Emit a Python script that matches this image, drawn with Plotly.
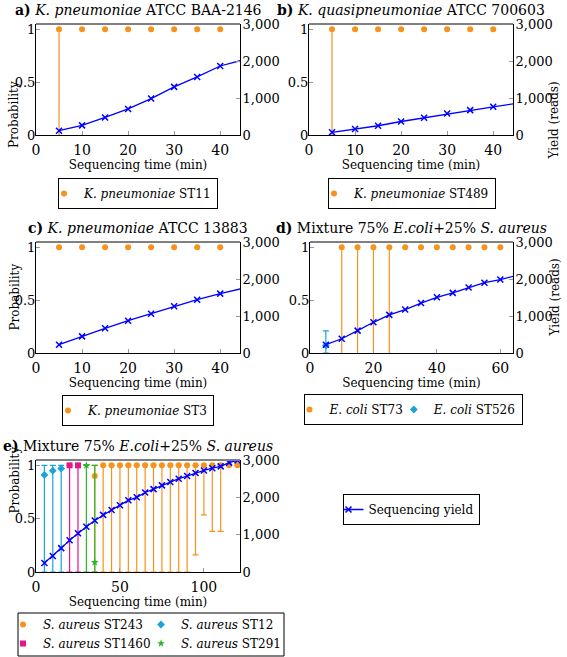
import plotly.graph_objects as go

W, H = 567, 657
FONT = "DejaVu Serif"

ORANGE = "#F7921E"
CYAN = "#1AA3D9"
MAGENTA = "#E3178C"
GREEN = "#2BB52B"
BLUE = "#0000FF"

# ---------------- data ----------------
# yield (reads) per sequencing time
time_abc = [5, 10, 15, 20, 25, 30, 35, 40, 45]
yield_a = [115, 260, 475, 705, 985, 1300, 1570, 1865, 2030]
yield_b = [72, 160, 250, 365, 466, 580, 672, 762, 855]
yield_c = [225, 450, 667, 874, 1063, 1261, 1441, 1604, 1750]
time_d = [5, 10, 15, 20, 25, 30, 35, 40, 45, 50, 55, 60, 65]
yield_d = [225, 385, 605, 830, 1030, 1175, 1350, 1505, 1625, 1770, 1900, 1985, 2090]
time_e = [5, 10, 15, 20, 25, 30, 35, 40, 45, 50, 55, 60, 65, 70, 75, 80,
          85, 90, 95, 100, 105, 110, 115, 120]
yield_e = [240, 430, 640, 850, 1040, 1210, 1380, 1530, 1660, 1790, 1920, 2000,
           2130, 2220, 2320, 2410, 2500, 2570, 2650, 2720, 2780, 2830, 2930, 2990]

# probability (value, lower bound, upper bound)
st11_t = [5, 10, 15, 20, 25, 30, 35, 40]
st11_p = [1, 1, 1, 1, 1, 1, 1, 1]
st11_lo = [0, 1, 1, 1, 1, 1, 1, 1]
st11_hi = [1, 1, 1, 1, 1, 1, 1, 1]

st489_t = [5, 10, 15, 20, 25, 30, 35, 40]
st489_p = [1, 1, 1, 1, 1, 1, 1, 1]
st489_lo = [0, 1, 1, 1, 1, 1, 1, 1]
st489_hi = [1, 1, 1, 1, 1, 1, 1, 1]

st3_t = [5, 10, 15, 20, 25, 30, 35, 40]
st3_p = [1, 1, 1, 1, 1, 1, 1, 1]
st3_lo = [1, 1, 1, 1, 1, 1, 1, 1]
st3_hi = [1, 1, 1, 1, 1, 1, 1, 1]

st73_t = [10, 15, 20, 25, 30, 35, 40, 45, 50, 55, 60]
st73_p = [1, 1, 1, 1, 1, 1, 1, 1, 1, 1, 1]
st73_lo = [0, 0, 0, 0, 1, 1, 1, 1, 1, 1, 1]
st73_hi = [1, 1, 1, 1, 1, 1, 1, 1, 1, 1, 1]

st526_t = [5]
st526_p = [0.07]
st526_lo = [0]
st526_hi = [0.21]

st243_t = [35, 40, 45, 50, 55, 60, 65, 70, 75, 80, 85, 90, 95, 100, 105, 110, 115, 120]
st243_p = [0.9, 1, 1, 1, 1, 1, 1, 1, 1, 1, 1, 1, 1, 1, 1, 1, 1, 1]
st243_lo = [0, 0, 0, 0, 0, 0, 0, 0, 0, 0, 0, 0, 0.16, 0.535, 0.38, 0.38, 1, 1]
st243_hi = [1, 1, 1, 1, 1, 1, 1, 1, 1, 1, 1, 1, 1, 1, 1, 1, 1, 1]

st12_t = [5, 10, 15]
st12_p = [0.91, 0.95, 0.97]
st12_lo = [0, 0, 0]
st12_hi = [1, 1, 1]

st1460_t = [20, 25]
st1460_p = [1, 1]
st1460_lo = [0, 0]
st1460_hi = [1, 1]

st291_t = [30, 35]
st291_p = [1, 0.09]
st291_lo = [0, 0]
st291_hi = [1, 1]

# ---------------- layout geometry (px) ----------------
panels = {
    1: dict(l=36, r=240, t=24, b=135, xr=[0, 44.3], xt=[0, 10, 20, 30, 40]),
    2: dict(l=309, r=513, t=24, b=135, xr=[0, 44.3], xt=[0, 10, 20, 30, 40]),
    3: dict(l=36, r=240, t=242, b=353, xr=[0, 44.3], xt=[0, 10, 20, 30, 40]),
    4: dict(l=310, r=513, t=242, b=353, xr=[0, 64], xt=[0, 20, 40, 60]),
    5: dict(l=36, r=240, t=460, b=572, xr=[0, 121.5], xt=[0, 50, 100]),
}


def px_x(v):
    return v / W


def px_y(v):
    return 1 - v / H


fig = go.Figure()


def sfx(i):
    return "" if i == 1 else str(i)


def prob_trace(i, name, t, p, lo, hi, color, symbol, legend, capw, size=6, showlegend=True):
    fig.add_trace(go.Scatter(
        x=t, y=p, mode="markers", name=name,
        marker=dict(color=color, size=size, symbol=symbol, line=dict(width=0)),
        error_y=dict(type="data", symmetric=False,
                     array=[h - v for h, v in zip(hi, p)],
                     arrayminus=[v - l for v, l in zip(p, lo)],
                     color=color, thickness=1.2, width=capw),
        xaxis="x" + sfx(i), yaxis="y" + sfx(i),
        legend=legend, showlegend=showlegend, cliponaxis=False,
    ))


def yield_trace(i, t, y, showlegend=False):
    fig.add_trace(go.Scatter(
        x=t, y=y, mode="lines+markers", name="Sequencing yield",
        line=dict(color=BLUE, width=1.3),
        marker=dict(symbol="x-thin", size=6, color=BLUE, line=dict(color=BLUE, width=1.5)),
        xaxis="x" + sfx(i), yaxis="y" + str(i + 5),
        legend="legend7", showlegend=showlegend,
    ))


prob_trace(1, "<i>K. pneumoniae</i> ST11", st11_t, st11_p, st11_lo, st11_hi, ORANGE, "circle", "legend", 0)
prob_trace(2, "<i>K. pneumoniae</i> ST489", st489_t, st489_p, st489_lo, st489_hi, ORANGE, "circle", "legend2", 0)
prob_trace(3, "<i>K. pneumoniae</i> ST3", st3_t, st3_p, st3_lo, st3_hi, ORANGE, "circle", "legend3", 0)
prob_trace(4, "<i>E. coli</i> ST73", st73_t, st73_p, st73_lo, st73_hi, ORANGE, "circle", "legend4", 0)
prob_trace(4, "<i>E. coli</i> ST526", st526_t, st526_p, st526_lo, st526_hi, CYAN, "diamond", "legend4", 3)
prob_trace(5, "<i>S. aureus</i> ST243", st243_t, st243_p, st243_lo, st243_hi, ORANGE, "circle", "legend5", 3)
prob_trace(5, "<i>S. aureus</i> ST12", st12_t, st12_p, st12_lo, st12_hi, CYAN, "diamond", "legend5", 3)
prob_trace(5, "<i>S. aureus</i> ST1460", st1460_t, st1460_p, st1460_lo, st1460_hi, MAGENTA, "square", "legend6", 3)
prob_trace(5, "<i>S. aureus</i> ST291", st291_t, st291_p, st291_lo, st291_hi, GREEN, "star", "legend6", 3)

yield_trace(1, time_abc, yield_a)
yield_trace(2, time_abc, yield_b)
yield_trace(3, time_abc, yield_c)
yield_trace(4, time_d, yield_d)
yield_trace(5, time_e, yield_e, showlegend=True)

xtickfont = dict(family=FONT, size=14, color="black")
ytickfont = dict(family=FONT, size=13, color="black")
layout = dict(
    width=W, height=H, margin=dict(l=0, r=0, t=0, b=0, autoexpand=False),
    paper_bgcolor="white", plot_bgcolor="white",
    font=dict(family=FONT, size=13, color="black"),
    showlegend=True,
)

annotations = []
shapes = []
titles = {
    1: "<b>a)</b> <i>K. pneumoniae</i> ATCC BAA-2146",
    2: "<b>b)</b> <i>K. quasipneumoniae</i> ATCC 700603",
    3: "<b>c)</b> <i>K. pneumoniae</i> ATCC 13883",
    4: "<b>d)</b> Mixture 75% <i>E.coli</i>+25% <i>S. aureus</i>",
    5: "<b>e)</b> Mixture 75% <i>E.coli</i>+25% <i>S. aureus</i>",
}
for i, g in panels.items():
    s = sfx(i)
    layout["xaxis" + s] = dict(
        domain=[px_x(g["l"]), px_x(g["r"])], anchor="y" + s, range=g["xr"],
        tickvals=g["xt"], showline=True, linecolor="black", linewidth=1,
        ticks="inside", ticklen=4, tickcolor="#999999", showgrid=False, zeroline=False,
        tickfont=xtickfont, ticklabelstandoff=2,
        title=dict(text="Sequencing time (min)", font=dict(family=FONT, size=12), standoff=0),
    )
    layout["yaxis" + s] = dict(
        domain=[px_y(g["b"]), px_y(g["t"])], anchor="x" + s, range=[0, 1.05],
        tickvals=[0, 0.5, 1], ticktext=["0", "0.5", "1"], showline=True, linecolor="black",
        linewidth=1, ticks="inside", ticklen=4, tickcolor="#999999", showgrid=False,
        zeroline=False, tickfont=ytickfont, ticklabelstandoff=-3,
    )
    layout["yaxis" + str(i + 5)] = dict(
        overlaying="y" + s, anchor="x" + s, side="right", range=[0, 3000],
        tickvals=[0, 1000, 2000, 3000], tickformat=",", showline=True, linecolor="black",
        linewidth=1, ticks="inside", ticklen=4, tickcolor="#999999", showgrid=False,
        zeroline=False, tickfont=ytickfont, ticklabelstandoff=-1,
    )
    annotations.append(dict(
        text=titles[i], x=px_x((g["l"] + g["r"]) / 2), y=px_y(g["t"] - 14),
        xref="paper", yref="paper", xanchor="center", yanchor="middle",
        showarrow=False, font=dict(family=FONT, size=14),
    ))
    shapes.append(dict(type="line", xref="x" + s + " domain", yref="y" + s + " domain",
                       x0=0, x1=1, y0=1, y1=1, line=dict(color="#808080", width=2)))

for i in (1, 3, 5):
    g = panels[i]
    annotations.append(dict(text="Probability", x=px_x(5), y=px_y((g["t"] + g["b"]) / 2),
                            xref="paper", yref="paper", textangle=-90, showarrow=False,
                            font=dict(family=FONT, size=12)))
for i in (2, 4):
    g = panels[i]
    annotations.append(dict(text="Yield (reads)", x=px_x(563), y=px_y((g["t"] + g["b"]) / 2),
                            xref="paper", yref="paper", textangle=-90, showarrow=False,
                            font=dict(family=FONT, size=12)))

legfont = dict(family=FONT, size=12, color="black")


def leg(cx, top, border=True, xanchor="center", entrywidth=None):
    d = dict(x=px_x(cx), y=px_y(top), xanchor=xanchor, yanchor="top", orientation="h",
             bgcolor="rgba(255,255,255,0)", bordercolor="black",
             borderwidth=1 if border else 0, font=legfont, itemwidth=30, indentation=-15)
    if entrywidth:
        d["entrywidth"] = entrywidth
        d["entrywidthmode"] = "pixels"
    return d


layout["legend"] = leg(138, 178)
layout["legend2"] = leg(412, 178)
layout["legend3"] = leg(138, 395)
layout["legend4"] = leg(413, 394)
layout["legend5"] = leg(18, 610, border=False, xanchor="left", entrywidth=108)
layout["legend6"] = leg(18, 629, border=False, xanchor="left", entrywidth=108)
layout["legend7"] = leg(411, 494)

shapes.append(dict(type="rect", xref="paper", yref="paper", x0=px_x(18), x1=px_x(284),
                   y0=px_y(613), y1=px_y(656), line=dict(color="black", width=1)))

layout["annotations"] = annotations
layout["shapes"] = shapes
fig.update_layout(**layout)
fig.write_html("out.html", config={"displayModeBar": False},
               post_script="document.body.style.margin='0px';")
